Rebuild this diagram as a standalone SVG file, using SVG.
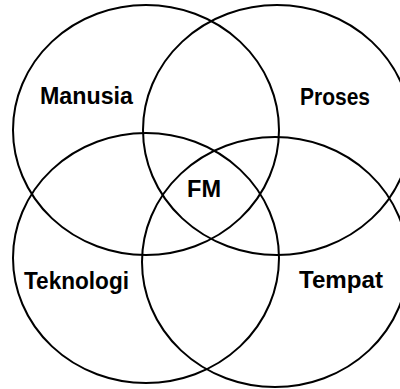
<svg xmlns="http://www.w3.org/2000/svg" width="400" height="389" viewBox="0 0 400 389">
<style>
.c{fill:none;stroke:#000;stroke-width:2}
.t{font-family:"Liberation Sans",Arial,sans-serif;font-weight:bold;font-size:23px;fill:#000;text-anchor:middle}
</style>
<rect width="400" height="389" fill="#fff"/>
<g id="manusia"><ellipse class="c" cx="146" cy="130" rx="133" ry="125"/><text class="t" x="86.5" y="104" textLength="93" lengthAdjust="spacingAndGlyphs">Manusia</text></g>
<g id="proses"><ellipse class="c" cx="277" cy="130" rx="134" ry="125"/><text class="t" x="335" y="105" textLength="70" lengthAdjust="spacingAndGlyphs">Proses</text></g>
<g id="teknologi"><ellipse class="c" cx="146" cy="258" rx="133" ry="125"/><text class="t" x="76.5" y="289" textLength="105" lengthAdjust="spacingAndGlyphs">Teknologi</text></g>
<g id="tempat"><ellipse class="c" cx="275" cy="262" rx="133" ry="125"/><text class="t" x="341" y="288" textLength="84" lengthAdjust="spacingAndGlyphs">Tempat</text></g>
<g id="fm"><text class="t" x="204" y="197" textLength="34" lengthAdjust="spacingAndGlyphs">FM</text></g>
<g id="connectors"/>
</svg>
